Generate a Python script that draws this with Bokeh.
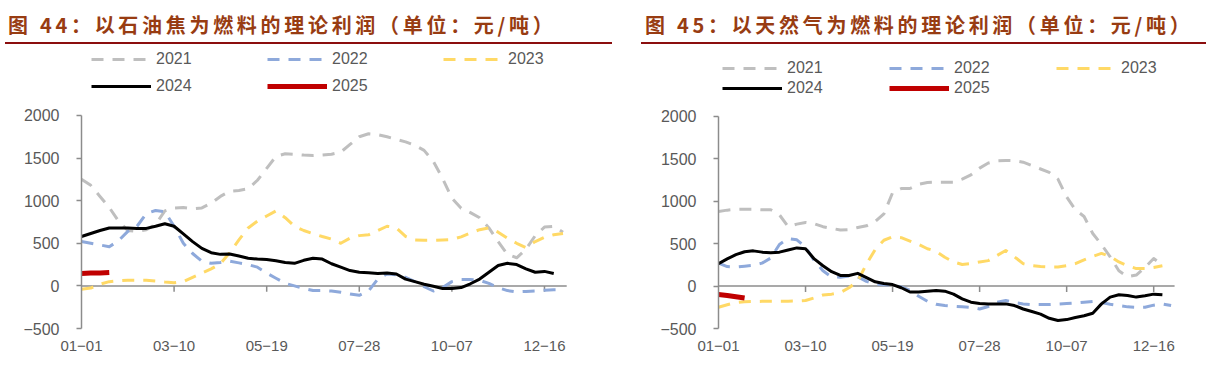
from bokeh.plotting import figure
from bokeh.layouts import row, column
from bokeh.models import Range1d, FixedTicker, Legend, LegendItem, Div
from bokeh.embed import file_html
from bokeh.resources import INLINE

# ---------------- data ----------------
years = ["2021", "2022", "2023", "2024", "2025"]
x_ticks = [0, 10, 20, 30, 40, 50]
x_tick_labels = ["01−01", "03−10", "05−19", "07−28", "10−07", "12−16"]
y_ticks = [-500, 0, 500, 1000, 1500, 2000]
y_tick_labels = ["−500", "0", "500", "1000", "1500", "2000"]

title_left = "图 44：以石油焦为燃料的理论利润（单位：元/吨）"
title_right = "图 45：以天然气为燃料的理论利润（单位：元/吨）"

coke_2021 = [1250, 1180, 1050, 920, 760, 650, 640, 660, 720, 880, 915, 920, 905, 915, 970, 1050, 1110, 1120, 1140, 1240,
             1380, 1520, 1550, 1545, 1535, 1530, 1535, 1545, 1570, 1660, 1750, 1785, 1775, 1750, 1720, 1690, 1650, 1590,
             1460, 1260, 1030, 910, 860, 800, 680, 520, 370, 330, 430, 590, 690, 700, 630]
coke_2022 = [520, 500, 480, 460, 530, 640, 700, 850, 885, 870, 700, 500, 380, 290, 265, 275, 290, 270, 250, 220,
             150, 90, 30, 0, -30, -55, -55, -60, -75, -95, -110, -60, 80, 140, 130, 100, 50, -10, -60, -20,
             50, 75, 75, 65, 30, -20, -55, -70, -65, -60, -50, -45, -45]
coke_2023 = [-40, -25, 20, 50, 60, 65, 65, 65, 58, 45, 38, 50, 100, 150, 200, 260, 390, 540, 680, 760,
             820, 880, 800, 700, 650, 613, 580, 550, 500, 560, 590, 600, 650, 700, 680, 580, 540, 535, 535, 540,
             545, 575, 620, 660, 680, 630, 560, 500, 450, 520, 570, 600, 615]
coke_2024 = [580, 615, 650, 680, 680, 680, 675, 675, 700, 730, 700, 610, 520, 440, 390, 370, 375, 350, 325, 315,
             310, 295, 275, 265, 300, 325, 315, 260, 220, 180, 160, 155, 145, 150, 140, 80, 50, 20, -5, -30,
             -30, -20, 25, 80, 160, 240, 265, 250, 200, 160, 170, 145]
coke_2025 = [145, 150, 152, 158]

gas_2021 = [880, 895, 905, 905, 905, 900, 900, 840, 700, 730, 750, 735, 700, 680, 660, 665, 690, 710, 760, 850,
            1100, 1150, 1150, 1200, 1220, 1225, 1225, 1225, 1260, 1310, 1390, 1450, 1475, 1480, 1478, 1460, 1420, 1380,
            1340, 1260, 1050, 900, 820, 620, 490, 345, 180, 110, 130, 220, 325, 250]
gas_2022 = [270, 230, 225, 235, 245, 270, 330, 490, 560, 545, 460, 300, 180, 107, 105, 120, 110, 55, 25, 15,
            10, -10, -50, -120, -180, -215, -230, -238, -245, -250, -270, -240, -190, -170, -195, -210, -218, -218, -218,
            -212, -206, -200, -190, -182, -195, -215, -230, -245, -250, -250, -225, -210, -230]
gas_2023 = [-250, -220, -195, -185, -182, -180, -178, -178, -178, -176, -170, -140, -105, -95, -75, -20, 60, 260, 430, 540,
            580, 570, 530, 490, 440, 410, 340, 285, 255, 265, 285, 300, 360, 420, 345, 265, 240, 230, 226, 226,
            240, 265, 310, 350, 385, 350, 285, 240, 206, 206, 220, 240]
gas_2024 = [265, 320, 370, 405, 415, 400, 392, 400, 425, 450, 440, 320, 240, 170, 125, 125, 150, 100, 50, 30,
            18, -20, -70, -70, -60, -52, -60, -95, -150, -190, -205, -210, -210, -210, -230, -270, -300, -330, -380, -405,
            -395, -370, -350, -320, -210, -130, -103, -110, -130, -115, -95, -103]
gas_2025 = [-100, -110, -125, -140]

# ---------------- styles ----------------
COLORS = {"2021": "#BFBFBF", "2022": "#8EA9DB", "2023": "#FFD966", "2024": "#000000", "2025": "#C00000"}
DASH = {"2021": "12 9", "2022": "12 9", "2023": "12 9", "2024": "solid", "2025": "solid"}
WIDTH = {"2021": 3, "2022": 3, "2023": 3, "2024": 3, "2025": 5}
TITLE_COLOR = "#983C12"
RULE_COLOR = "#8B0E0E"
AXIS_COLOR = "#8C8C8C"
TEXT_COLOR = "#595959"
FONT = "Liberation Sans"
HEAD_H = 44
FRAME_TOP = 48
FRAME_H = 280
FIG_H = 372 - HEAD_H


def header(text, width, left_margin, pad_left):
    return Div(text=text, width=width, height=HEAD_H, margin=(0, 0, 0, left_margin),
               styles={"font-family": "'Noto Sans CJK SC', sans-serif", "font-weight": "bold",
                       "font-size": "20px", "letter-spacing": "3.7px", "color": TITLE_COLOR,
                       "border-bottom": "2px solid " + RULE_COLOR, "box-sizing": "border-box",
                       "padding-left": f"{pad_left}px", "padding-top": "5px", "line-height": "40px",
                       "white-space": "nowrap", "overflow": "hidden"})


def panel(series, width, b_left, b_right, x_end, y_top, legend_x, row1_y, row2_y, label_w):
    p = figure(width=width, height=FIG_H, x_range=Range1d(0, x_end), y_range=Range1d(-500, y_top),
               toolbar_location=None, output_backend="svg", min_border_left=b_left, min_border_right=b_right,
               min_border_top=FRAME_TOP - HEAD_H, min_border_bottom=FIG_H - (FRAME_TOP - HEAD_H) - FRAME_H,
               outline_line_color=None, background_fill_color="white", border_fill_color="white")
    p.xgrid.visible = False
    p.ygrid.visible = False

    ya = p.yaxis[0]
    ya.ticker = FixedTicker(ticks=y_ticks)
    ya.bounds = (y_ticks[0], y_ticks[-1])
    ya.major_label_overrides = dict(zip(y_ticks, y_tick_labels))
    ya.axis_line_color = AXIS_COLOR
    ya.axis_line_width = 1.5
    ya.major_tick_line_color = AXIS_COLOR
    ya.major_tick_line_width = 1.5
    ya.major_tick_out = 5
    ya.major_tick_in = 0
    ya.minor_tick_line_color = None
    ya.major_label_standoff = 17
    ya.major_label_text_font = FONT
    ya.major_label_text_font_size = "16px"
    ya.major_label_text_color = TEXT_COLOR

    xa = p.xaxis[0]
    xa.ticker = FixedTicker(ticks=x_ticks)
    xa.major_label_overrides = dict(zip(x_ticks, x_tick_labels))
    xa.axis_line_color = None
    xa.major_tick_line_color = None
    xa.minor_tick_line_color = None
    xa.major_tick_out = 0
    xa.major_tick_in = 0
    xa.major_label_standoff = 12
    xa.major_label_text_font = FONT
    xa.major_label_text_font_size = "15px"
    xa.major_label_text_color = TEXT_COLOR

    # category axis drawn at zero
    p.segment(x0=[0], y0=[0], x1=[52.4], y1=[0], line_color=AXIS_COLOR, line_width=1.5)
    p.segment(x0=x_ticks[1:], y0=[0] * 5, x1=x_ticks[1:], y1=[-70] * 5, line_color=AXIS_COLOR, line_width=1.5)

    items = {}
    for yr, vals in zip(years, series):
        r = p.line(list(range(len(vals))), vals, line_color=COLORS[yr], line_width=WIDTH[yr],
                   line_dash=DASH[yr], line_join="round")
        items[yr] = LegendItem(label=yr, renderers=[r])

    common = dict(orientation="horizontal", padding=0, margin=0, spacing=10, glyph_width=60, glyph_height=20,
                  label_height=20, label_width=label_w, label_standoff=5, border_line_color=None,
                  background_fill_alpha=0, label_text_font=FONT, label_text_font_size="16px",
                  label_text_color=TEXT_COLOR)
    leg1 = Legend(items=[items["2021"], items["2022"], items["2023"]], location=(legend_x, row1_y), **common)
    leg2 = Legend(items=[items["2024"], items["2025"]], location=(legend_x, row2_y), **common)
    p.add_layout(leg1)
    p.add_layout(leg2)
    return p


left = column(header(title_left, 607, 5, 3),
              panel([coke_2021, coke_2022, coke_2023, coke_2024, coke_2025], 628, 81, 28, 56.05, 2786,
                    10, 259, 232, 101),
              spacing=0)
right = column(header(title_right, 565, 13, 4),
               panel([gas_2021, gas_2022, gas_2023, gas_2024, gas_2025], 578, 90, 26, 53.08, 2800,
                     4, 250, 230, 92),
               spacing=0)
layout = row(left, right, spacing=0)

open("out.html", "w").write(file_html(layout, INLINE))
